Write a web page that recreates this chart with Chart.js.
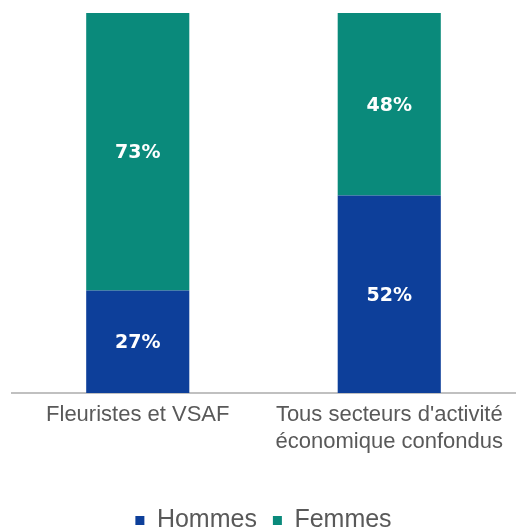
<!DOCTYPE html>
<html>
<head>
<meta charset="utf-8">
<script src="https://cdn.jsdelivr.net/npm/chart.js@4"></script>
<style>
  body { margin: 0; background: #fff; }
  #wrap { width: 516px; height: 529px; }
</style>
</head>
<body>
<div id="wrap"><canvas id="chart"></canvas></div>
<script>
const categories = [["Fleuristes et VSAF"], ["Tous secteurs d'activité", "économique confondus"]];
const seriesNames = ["Hommes", "Femmes"];
const hommes = [27, 52];
const femmes = [73, 48];

// draws the white percentage in the middle of each segment
const barLabels = {
  id: "barLabels",
  afterDatasetsDraw(chart) {
    const ctx = chart.ctx;
    ctx.save();
    ctx.fillStyle = "#ffffff";
    ctx.font = "bold 19px 'DejaVu Sans', sans-serif";
    ctx.textAlign = "center";
    ctx.textBaseline = "middle";
    chart.data.datasets.forEach(function (ds, i) {
      chart.getDatasetMeta(i).data.forEach(function (bar, j) {
        const p = bar.getProps(["x", "y", "base"], true);
        ctx.fillText(ds.data[j] + "%", p.x, (p.y + p.base) / 2 + 1.5);
      });
    });
    ctx.restore();
  },
};

new Chart(document.getElementById("chart"), {
  type: "bar",
  data: {
    labels: categories,
    datasets: [
      { label: seriesNames[0], data: hommes, backgroundColor: "#0d3f9a" },
      { label: seriesNames[1], data: femmes, backgroundColor: "#0a8a7b" },
    ],
  },
  options: {
    responsive: true,
    maintainAspectRatio: false,
    animation: false,
    layout: { padding: { left: 12, right: 1, top: 13, bottom: -14 } },
    datasets: { bar: { categoryPercentage: 1, barPercentage: 0.41 } },
    scales: {
      x: {
        stacked: true,
        grid: { display: false },
        border: { color: "#c0c0c0", width: 2 },
        ticks: {
          color: "#595959",
          font: { family: "'Liberation Sans', Arial, sans-serif", size: 22, lineHeight: 1.25 },
          padding: 0,
          maxRotation: 0,
        },
        afterFit: function (scale) {
          scale.height += 36;
        },
      },
      y: { stacked: true, display: false, min: 0, max: 100 },
    },
    plugins: {
      legend: {
        position: "bottom",
        labels: {
          color: "#595959",
          font: { family: "'Liberation Sans', Arial, sans-serif", size: 25 },
          boxWidth: 9,
          boxHeight: 9,
          padding: 16,
        },
      },
      tooltip: { enabled: false },
    },
  },
  plugins: [barLabels],
});
</script>
</body>
</html>
